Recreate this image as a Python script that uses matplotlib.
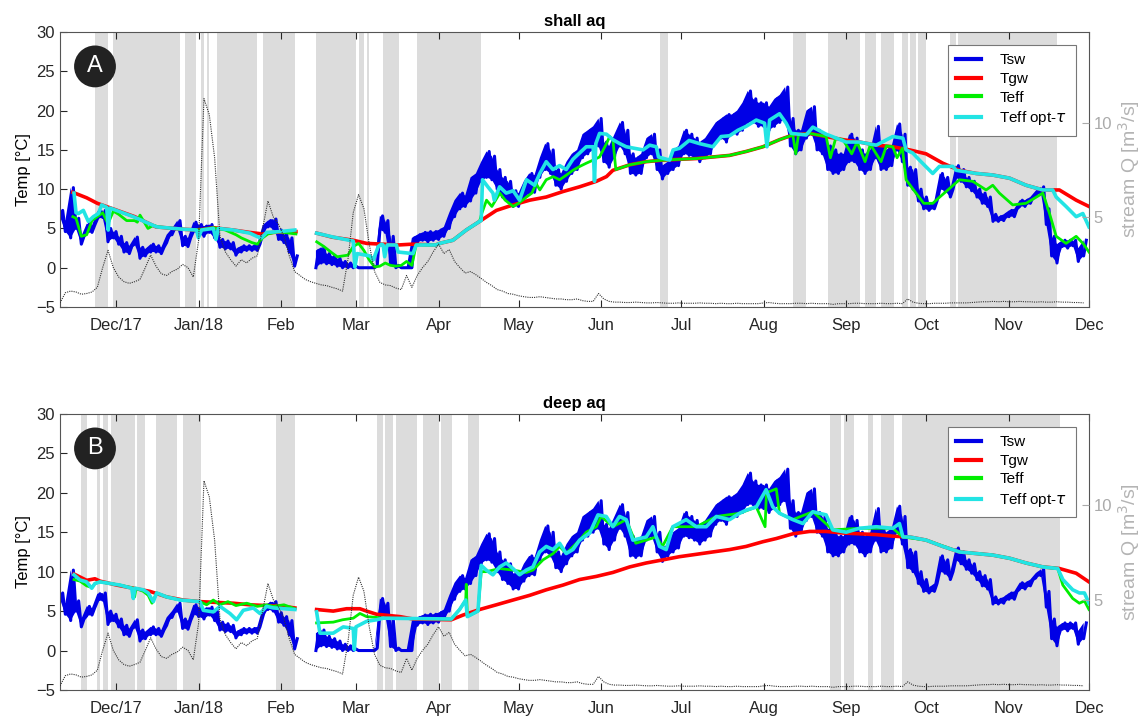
import numpy as np
import pandas as pd
import matplotlib
matplotlib.use('Agg')
import matplotlib.pyplot as plt
import matplotlib.dates as mdates

plt.rcParams['font.family'] = ['Liberation Sans', 'DejaVu Sans']

nan = np.nan
start = pd.Timestamp('2017-11-10')
end = pd.Timestamp('2018-12-01')

month_ticks = ['2017-12-01', '2018-01-01', '2018-02-01', '2018-03-01', '2018-04-01',
               '2018-05-01', '2018-06-01', '2018-07-01', '2018-08-01', '2018-09-01',
               '2018-10-01', '2018-11-01', '2018-12-01']
month_labels = ['Dec/17', 'Jan/18', 'Feb', 'Mar', 'Apr', 'May', 'Jun', 'Jul', 'Aug',
                'Sep', 'Oct', 'Nov', 'Dec']

# surface water temp, sampled every 2 days from start (low / high of the daily swing)
tsw_lo = [6.5, 4.6, 3.8, 5.0, 3.0, 4.4, 4.5, 6.2, 6.4, 3.3,
          3.8, 3.0, 2.0, 1.8, 3.0, 1.2, 1.5, 2.0, 2.0, 1.8,
          3.2, 4.2, 5.0, 2.8, 2.7, 4.6, 4.3, 4.0, 4.5, 3.8,
          2.6, 2.4, 2.4, 1.6, 2.0, 2.2, 2.2, 2.2, 4.2, 5.2,
          5.0, 3.6, 3.2, 2.0, 0.2, nan, nan, nan, 0.0, 0.6,
          0.5, 0.4, 0.2, 0.0, 0.0, 0.0, 0.0, 0.0, 0.0, 0.0,
          4.8, 4.5, 0.5, 0.0, 0.0, 0.0, 0.0, 3.2, 3.5, 3.3,
          3.5, 3.6, 4.0, 5.0, 6.5, 7.5, 7.8, 8.5, 9.5, 11.0,
          11.5, 11.2, 10.0, 9.0, 8.5, 7.8, 7.8, 8.8, 9.5, 9.6,
          11.5, 12.5, 12.0, 10.5, 10.0, 11.0, 12.0, 12.5, 14.0, 14.5,
          15.0, 15.5, 13.5, 12.8, 14.0, 15.5, 14.5, 12.0, 11.8, 12.0,
          14.0, 14.5, 12.5, 11.3, 12.0, 12.5, 13.0, 14.5, 14.3, 14.0,
          13.5, 14.0, 14.5, 16.0, 16.5, 16.0, 17.0, 17.0, 17.5, 18.5,
          18.5, 18.0, 18.0, 17.5, 18.0, 18.5, 19.0, 15.5, 14.5, 15.0,
          16.5, 17.0, 15.0, 14.5, 12.5, 12.0, 12.0, 12.5, 13.5, 13.5,
          12.5, 12.0, 12.5, 14.0, 12.5, 12.5, 13.0, 15.0, 13.5, 10.5,
          10.0, 8.5, 7.5, 7.3, 7.5, 10.0, 9.8, 9.0, 11.5, 11.0,
          10.3, 9.8, 9.0, 8.2, 7.8, 5.9, 5.9, 6.0, 6.5, 6.5,
          7.8, 7.8, 8.2, 9.2, 9.5, 5.5, 1.5, 0.6, 2.7, 2.5,
          2.8, 0.8, 1.5]
tsw_hi = [7.3, 6.0, 10.2, 6.3, 4.0, 5.6, 5.4, 7.2, 7.3, 5.0,
          4.6, 4.0, 3.2, 2.8, 3.9, 2.6, 2.4, 3.0, 2.8, 2.6,
          4.2, 5.0, 6.0, 4.0, 3.8, 5.8, 5.5, 5.3, 5.5, 5.0,
          3.6, 3.4, 3.2, 2.4, 2.8, 2.8, 2.8, 3.0, 5.4, 6.0,
          6.2, 4.8, 4.3, 3.8, 1.5, nan, nan, nan, 2.2, 2.6,
          1.8, 1.5, 1.2, 0.8, 0.6, 0.2, 0.0, 0.0, 0.0, 0.3,
          6.6, 6.0, 4.0, 0.3, 0.0, 0.0, 3.8, 4.2, 4.5, 4.6,
          4.6, 4.8, 5.2, 7.0, 8.6, 9.5, 9.2, 11.5, 12.0, 13.5,
          14.8, 14.2, 12.5, 11.5, 11.0, 9.8, 9.5, 11.0, 12.0, 11.8,
          14.0, 15.8, 15.0, 12.5, 12.0, 13.5, 14.5, 15.0, 17.0, 17.5,
          18.0, 19.0, 16.0, 15.5, 17.0, 18.5, 17.5, 14.5, 14.0, 14.5,
          16.5, 17.0, 15.0, 13.0, 13.5, 15.0, 15.5, 17.5, 17.0, 16.5,
          16.0, 16.5, 17.5, 18.5, 19.0, 19.5, 19.5, 20.0, 21.0, 22.5,
          21.5, 21.0, 21.0, 20.5, 21.5, 22.0, 23.0, 19.0, 17.5, 17.5,
          20.0, 20.5, 17.5, 17.0, 15.5, 15.0, 14.5, 14.5, 17.0, 16.5,
          15.0, 14.5, 15.0, 18.0, 15.5, 15.0, 15.5, 18.3, 17.0, 12.8,
          12.5, 10.0, 9.0, 8.0, 8.5, 12.0, 11.5, 10.0, 13.0, 12.5,
          11.5, 11.0, 10.0, 9.5, 9.0, 6.8, 6.5, 6.8, 7.3, 7.5,
          8.6, 8.6, 9.0, 9.8, 10.3, 7.5, 4.0, 3.0, 3.5, 3.5,
          3.5, 2.5, 3.5]

# stream discharge, same 2-day sampling
q_flow = [0.42, 0.96, 1.05, 1.00, 0.88, 0.92, 1.00, 1.25, 2.30, 3.22,
          2.30, 1.80, 1.55, 1.46, 1.55, 1.67, 2.30, 2.97, 2.38, 1.97,
          1.88, 2.09, 2.22, 2.47, 2.30, 1.80, 3.76, 11.30, 10.45, 8.15,
          3.97, 3.14, 2.72, 2.38, 2.72, 2.55, 2.80, 2.93, 4.39, 5.85,
          5.00, 4.60, 3.97, 2.93, 2.09, 1.88, 1.67, 1.55, 1.46, 1.38,
          1.34, 1.25, 1.17, 1.05, 2.72, 5.23, 6.19, 5.44, 3.55, 2.09,
          1.51, 1.38, 1.34, 1.21, 1.13, 1.88, 1.25, 1.88, 2.30, 2.63,
          3.14, 3.55, 3.05, 3.26, 2.63, 2.30, 2.01, 2.09, 1.92, 1.72,
          1.51, 1.34, 1.13, 1.05, 0.92, 0.88, 0.80, 0.75, 0.71, 0.71,
          0.75, 0.71, 0.67, 0.63, 0.63, 0.59, 0.59, 0.63, 0.54, 0.50,
          0.50, 0.92, 0.63, 0.50, 0.46, 0.46, 0.44, 0.44, 0.46, 0.44,
          0.42, 0.42, 0.44, 0.42, 0.40, 0.40, 0.42, 0.40, 0.40, 0.40,
          0.42, 0.40, 0.40, 0.38, 0.40, 0.38, 0.38, 0.40, 0.38, 0.38,
          0.38, 0.38, 0.42, 0.44, 0.40, 0.38, 0.38, 0.38, 0.40, 0.40,
          0.38, 0.40, 0.38, 0.38, 0.38, 0.34, 0.38, 0.38, 0.38, 0.40,
          0.40, 0.38, 0.38, 0.38, 0.40, 0.38, 0.38, 0.40, 0.38, 0.63,
          0.46, 0.40, 0.38, 0.38, 0.40, 0.40, 0.40, 0.42, 0.42, 0.42,
          0.42, 0.44, 0.46, 0.48, 0.48, 0.50, 0.48, 0.50, 0.48, 0.48,
          0.50, 0.48, 0.48, 0.46, 0.48, 0.46, 0.46, 0.48, 0.46, 0.46,
          0.44, 0.44, 0.42]

# ---- shallow aquifer (days since start, value)
gw_top_day = [4.8, 10, 14, 19, 28, 36, 46, 52, 57.5, 65, 71, 76, 80, 88.5, 92,
              96.3, 102, 110, 115, 127, 132, 141, 142.4, 147.4, 152.4, 157.4, 163.7, 170,
              176.2, 182.4, 188.7, 194.9, 201.2, 205, 207.4, 213.7, 219.9, 226.2, 232.4,
              238.7, 244.9, 251.2, 257.4, 263.7, 269.9, 274.9, 281.2, 287.4, 293.7, 299.9,
              306.2, 312.4, 318.7, 324.9, 331.2, 337.4, 343.7, 349.9, 356.2, 362.4, 368.7,
              374.9, 381.2, 386]
gw_top = [9.6, 8.9, 8.2, 7.6, 6.5, 5.2, 4.9, 4.8, 5.1, 4.8, 4.5, 4.3, 4.5, 4.6, nan,
          4.4, 3.9, 3.5, 3.1, 2.9, 3.0, 2.9, 3.1, 3.5, 4.8, 5.9, 7.3, 8.0,
          8.6, 9.0, 9.7, 10.3, 11.0, 11.6, 12.4, 13.1, 13.5, 13.7, 13.8,
          13.9, 14.1, 14.3, 14.8, 15.4, 16.3, 16.9, 17.1, 16.7, 16.3, 16.0,
          15.6, 15.4, 15.0, 14.5, 13.3, 12.4, 12.0, 11.8, 11.4, 10.5, 9.9,
          9.9, 8.6, 7.8]

eff_top_day = [4.8, 6, 8, 10, 12, 14, 16, 18, 20, 22, 25, 28, 29, 30, 33, 35, 37, 46, 52,
               57.5, 62, 66, 68, 70, 72, 74, 76, 78, 82, 86, 88.5, 92,
               96.3, 99, 102, 104, 108, 110, 112, 114, 116, 118, 120, 122, 124, 126, 128,
               130, 132, 133.6, 141, 142.4, 147.4, 152.4, 157.4, 158.2, 160, 162, 165,
               167, 170, 172, 175, 177, 178.6, 180, 182.4, 185, 187.4, 190, 192.4, 195,
               197.4, 200, 202.4, 205, 206.2, 207.4, 208.5, 213.7, 219.9, 226.2, 232.4,
               238.7, 244.9, 251.2, 257.4, 263.7, 269.9, 274.9, 276, 277, 281.2, 287.4,
               289, 291, 293.7, 297, 299, 302, 304, 308, 310, 312.4, 314, 316, 317.4,
               320, 324, 327.4, 330, 332.4, 337.4, 342.4, 347.4, 349.9, 352.4, 357.4,
               362.4, 368.7, 371.2, 373.7, 377.4, 381.2, 384, 386]
eff_top = [6.5, 6.3, 4.0, 4.2, 6.0, 6.5, 7.0, 5.6, 7.2, 6.8, 6.0, 6.0, 5.8, 6.7, 5.0, 5.4,
           5.2, 4.9, 4.8, 5.1, 4.8, 4.2, 3.8, 3.5, 3.2, 3.0, 3.8, 4.3, 4.6, 4.4, 4.3, nan,
           3.3, 2.7, 1.9, 1.4, 1.6, 2.7, 3.1, 2.2, 1.0, 0.1, 0.2, 0.6, 0.3, 0.2, 0.3,
           0.8, 0.3, 2.9, 2.9, 3.1, 3.5, 4.8, 5.9, 6.9, 8.6, 7.8, 9.5,
           8.6, 7.8, 8.2, 9.0, 9.5, 10.7, 9.9, 11.2, 11.6, 11.2, 11.8, 12.4, 12.9,
           13.3, 13.7, 14.1, 15.8, 16.7, 16.3, 12.5, 13.1, 13.5, 13.7, 13.8,
           13.9, 14.1, 14.3, 14.8, 15.4, 16.3, 16.9, 14.5, 16.9, 17.1, 16.7,
           14.0, 16.5, 16.3, 14.5, 16.0, 13.5, 15.7, 13.5, 15.5, 15.4, 14.0, 15.2, 11.2,
           10.0, 8.2, 8.2, 9.0, 9.7, 11.2, 11.0, 9.9, 10.5, 9.5, 8.0,
           8.2, 9.5, 6.9, 4.0, 3.1, 4.0, 3.0, 2.0]

opt_top_day = [5.25, 6, 6.9, 8.75, 10.6, 12.5, 14.4, 15.6, 17.5, 18.1, 18.75, 27.5, 36.25,
               46.25, 51.25, 51.9, 53.1, 57.5, 58.5, 59.4, 65, 71.25, 74.4, 75.6, 77.5,
               82.5, 88.1, 92,
               96.25, 102.5, 110, 110.6, 111.5, 116.25, 117.5, 119.4, 120.6, 121.2, 121.8,
               122.7, 126.2, 126.8, 132.4, 133.6, 141, 142.4, 147.4, 152.4, 157.4, 158.0,
               158.5, 160.5, 162.4, 162.9, 164.9, 167.4, 170, 172.4, 173.7, 175, 178, 180,
               182.4, 184.9, 187.4, 189.9, 192.4, 194.9, 197.4, 200, 200.5, 201, 202.4,
               205, 207.4, 210, 212.4, 215.5, 218.7, 221.2, 223.7, 224.5, 228.7, 230,
               232.4, 236, 239.9, 244.9, 248, 251.2, 254.3, 257.4, 261.2, 264.3, 265.2,
               266.2, 269.9, 272.4, 274.3, 279.9, 282.4, 287.4, 291.2, 294.9, 299.9,
               306.2, 312.4, 316.2, 317.4, 319.9, 322.4, 326.2, 327.4, 329.9, 334.9,
               336.2, 343.7, 349.9, 356.2, 362.4, 368.7, 372.4, 373.7, 377.4, 381.2,
               383.7, 386]
opt_top = [9.5, 7.0, 6.9, 7.3, 5.9, 6.5, 6.9, 8.0, 7.7, 4.8, 7.6, 6.5, 5.2,
           4.9, 4.8, 3.8, 4.8, 5.0, 3.6, 5.0, 4.8, 4.4, 3.9, 3.8, 4.5,
           4.6, 4.8, nan,
           4.4, 3.9, 3.4, 0.1, 1.8, 1.5, 1.0, 2.7, 3.0, 2.9, 1.4,
           2.9, 2.9, 2.0, 1.8, 2.9, 2.9, 3.1, 3.5, 4.8, 5.9, 6.0,
           11.2, 10.3, 9.5, 8.6, 10.3, 9.5, 9.8, 8.6, 9.9, 11.2, 10.5, 12.0,
           13.5, 12.5, 13.0, 12.5, 13.8, 14.6, 15.4, 15.4, 11.0, 15.8, 17.1,
           17.0, 16.3, 15.8, 15.4, 15.2, 15.0, 15.6, 15.4, 14.1, 13.7, 15.0,
           15.2, 16.2, 15.8, 15.4, 16.7, 16.8, 17.5, 18.0, 18.8, 18.4, 15.4,
           18.8, 19.6, 18.4, 17.1, 16.9, 17.9, 17.0, 16.5, 16.0, 16.0,
           15.6, 16.7, 16.5, 15.0, 14.6, 13.7, 12.4, 12.0, 12.9, 12.9,
           12.4, 12.0, 11.8, 11.4, 10.5, 9.9, 9.9, 9.0, 7.8, 6.5,
           6.9, 5.2]

# ---- deep aquifer
gw_bot_day = [5.25, 10, 13.1, 15, 21.25, 27.5, 33.75, 40, 46.25, 52.5, 58.75, 65, 71.25,
              77.5, 83.75, 88.1, 92, 96.25, 102.5, 107.5, 112.5, 115, 118.75, 127.5,
              132.4, 146.8, 151.2, 157.4, 163.7, 169.9, 176.2, 182.4, 188.7, 194.9,
              201.2, 207.4, 213.7, 219.9, 226.2, 232.4, 238.7, 244.9, 251.2, 257.4,
              263.7, 268.7, 274.9, 281.2, 287.4, 293.7, 299.9, 306.2, 312.4, 318.7,
              324.9, 331.2, 337.4, 343.7, 349.9, 356.2, 362.4, 368.7, 374.9, 381.2, 386]
gw_bot = [9.7, 8.9, 9.1, 8.8, 8.3, 7.9, 7.5, 6.8, 6.4, 6.2, 6.1, 6.0, 5.8,
          5.7, 5.6, 5.4, nan, 5.2, 5.0, 5.3, 5.3, 5.0, 4.6, 4.3,
          4.0, 3.9, 4.5, 5.2, 5.8, 6.4, 7.0, 7.7, 8.3, 9.0,
          9.4, 9.9, 10.6, 11.1, 11.5, 11.9, 12.2, 12.5, 12.8, 13.2,
          13.8, 14.2, 14.8, 15.1, 15.1, 14.9, 14.8, 14.7, 14.5, 14.4,
          14.0, 13.2, 12.5, 12.3, 12.1, 11.7, 11.1, 10.6, 10.4, 9.8, 8.7]

eff_bot_day = [5.25, 7.5, 10, 12, 13.1, 15, 22.5, 27.5, 28, 28.5, 31.25, 33.1, 34.5, 36.25,
               40, 45, 52.5, 55, 57.5, 60, 63, 66, 70, 74, 77.5, 80, 84, 88.1, 92,
               96.25, 102.5, 106, 110, 112.5, 115, 118.75, 121.25, 146.8, 149.9, 152.2,
               152.4, 152.8, 156.8, 158, 160, 164.9, 169.9, 174.9, 177.4, 181.2, 185,
               187.4, 189.9, 194.9, 197.4, 201.2, 203, 207.4, 212.4, 216, 223.7, 226,
               229.9, 238.7, 246.2, 254.9, 261.2, 264.5, 265, 268.7, 269.9, 274.9,
               282.4, 289.9, 299.9, 312.4, 316.2, 324.9, 337.4, 349.9, 356.2, 362.4,
               368.7, 374.3, 376.2, 379.9, 382.4, 384.3, 386]
eff_bot = [9.0, 8.8, 8.2, 8.0, 8.5, 8.7, 8.3, 7.9, 6.8, 7.9, 7.5, 7.0, 6.0, 7.3,
           6.8, 6.4, 6.2, 5.8, 6.4, 5.8, 6.2, 5.7, 6.0, 5.6, 5.8, 5.6, 5.8, 5.3, nan,
           3.5, 3.6, 3.9, 4.1, 4.7, 4.3, 4.2, 4.1, 4.0, 5.2, 6.4,
           8.4, 4.3, 5.0, 10.0, 10.0, 10.4, 10.2, 9.9, 10.2, 11.5, 12.3,
           13.2, 12.3, 14.0, 15.0, 15.7, 17.0, 15.7, 16.6, 13.6, 14.4, 13.2,
           15.7, 15.7, 17.0, 17.4, 18.2, 15.7, 20.0, 20.5, 17.4, 16.6,
           17.6, 15.3, 15.5, 15.5, 14.4, 14.0, 12.5, 12.1, 11.7, 11.1,
           10.6, 10.4, 8.3, 6.6, 6.0, 6.3, 5.2]

opt_bot_day = [5.25, 7.5, 10, 11.9, 13.1, 15, 18.75, 22.5, 26.9, 27.5, 28.1, 31.25, 33.1,
               35, 36.25, 40, 45, 52.5, 53.75, 57.5, 60, 63.75, 66.25, 68.75, 72.5, 75,
               77.5, 80, 88.1, 92,
               96.25, 97.5, 102.5, 106.25, 110, 110.4, 111, 115, 118.75, 121.25, 146.8,
               149.9, 152.2, 152.8, 156.2, 156.8, 158, 159.9, 162.4, 164.9, 167.4, 169.9,
               172.4, 174.9, 177.4, 179.9, 182.4, 184.9, 187.4, 189.9, 192.4, 194.9,
               198.7, 201.8, 204.9, 207.4, 209.9, 212.4, 214.9, 219.9, 222.4, 224.9,
               227.4, 229.9, 234.9, 238.7, 242.4, 246.2, 251.2, 254.9, 257.4, 261.2,
               264.9, 267.4, 269.9, 274.9, 278.7, 282.4, 287.4, 289.9, 294.9, 299.9,
               306.2, 312.4, 314.9, 316.2, 318.7, 324.9, 331.2, 337.4, 343.7, 349.9,
               356.2, 362.4, 368.7, 374.3, 376.2, 379.9, 382.4, 384.3, 386]
opt_bot = [9.6, 8.95, 8.7, 7.9, 8.5, 8.7, 8.5, 8.3, 7.9, 6.6, 7.9, 7.7, 7.3,
           6.2, 7.3, 6.8, 6.4, 6.2, 5.1, 4.9, 5.6, 4.7, 3.9, 5.1, 5.4, 4.7,
           5.6, 5.4, 5.2, nan,
           4.9, 2.2, 2.2, 3.0, 2.8, 0.1, 3.0, 3.7, 3.9, 4.1, 4.0,
           5.2, 6.4, 4.3, 4.9, 5.0, 10.8, 10.2, 9.6, 10.6, 11.1, 10.4,
           9.6, 10.2, 10.6, 12.5, 13.2, 12.8, 13.6, 12.3, 12.8, 14.0,
           14.9, 17.2, 17.0, 15.7, 17.0, 16.6, 14.0, 14.4, 15.7, 13.2,
           12.8, 15.7, 16.6, 15.7, 15.7, 17.0, 16.6, 17.4, 17.8, 18.2,
           20.4, 18.2, 17.4, 16.6, 16.1, 17.6, 17.2, 15.3, 15.0, 15.5,
           15.7, 15.5, 16.1, 14.4, 14.4, 14.0, 13.2, 12.5, 12.3, 12.1,
           11.7, 11.1, 10.6, 10.4, 9.0, 7.7, 7.3, 7.3, 6.0]

bands_top = [('2017-11-23', '2017-11-28'), ('2017-11-30', '2017-12-25'),
             ('2017-12-27', '2017-12-31'), ('2018-01-02', '2018-01-03'),
             ('2018-01-04', '2018-01-05'), ('2018-01-08', '2018-01-23'),
             ('2018-01-25', '2018-02-06'), ('2018-02-14', '2018-03-01'),
             ('2018-03-02', '2018-03-04'), ('2018-03-05', '2018-03-06'),
             ('2018-03-11', '2018-03-17'), ('2018-03-24', '2018-04-17'),
             ('2018-06-23', '2018-06-26'), ('2018-08-12', '2018-08-17'),
             ('2018-08-25', '2018-09-06'), ('2018-09-08', '2018-09-12'),
             ('2018-09-14', '2018-09-19'), ('2018-09-22', '2018-09-24'),
             ('2018-09-25', '2018-09-27'), ('2018-09-28', '2018-10-01'),
             ('2018-10-10', '2018-10-12'), ('2018-10-13', '2018-11-19')]
bands_bot = [('2017-11-18', '2017-11-20'), ('2017-11-24', '2017-11-25'),
             ('2017-11-26', '2017-11-28'), ('2017-11-29', '2017-12-08'),
             ('2017-12-09', '2017-12-12'), ('2017-12-16', '2017-12-24'),
             ('2017-12-26', '2018-01-02'), ('2018-01-30', '2018-02-06'),
             ('2018-03-09', '2018-03-11'), ('2018-03-12', '2018-03-15'),
             ('2018-03-16', '2018-03-24'), ('2018-03-26', '2018-04-01'),
             ('2018-04-02', '2018-04-06'), ('2018-04-12', '2018-04-16'),
             ('2018-08-26', '2018-08-30'), ('2018-08-31', '2018-09-04'),
             ('2018-09-09', '2018-09-11'), ('2018-09-14', '2018-09-19'),
             ('2018-09-22', '2018-11-20')]

t0 = mdates.date2num(start)
grid = t0 + np.arange(0, 385, 2)
tsw_x = np.column_stack([grid, grid + 1]).ravel()
tsw_y = np.column_stack([tsw_lo, tsw_hi]).ravel()

tick_grey = '#262626'
blue = '#0000e6'


def panel(ax, title, badge, bands, gw_d, gw, eff_d, eff, opt_d, opt):
    for a, b in bands:
        ax.axvspan(mdates.date2num(pd.Timestamp(a)), mdates.date2num(pd.Timestamp(b)),
                   color='#dcdcdc', lw=0, zorder=0)
    # Tsw: daily swing as a filled band with a jagged outline
    ax.fill_between(grid, tsw_lo, tsw_hi, color=blue, lw=0, zorder=2)
    l1, = ax.plot(tsw_x, tsw_y, color=blue, lw=2.2, zorder=2, label='Tsw')
    l2, = ax.plot(t0 + np.array(gw_d), gw, color='#ff0000', lw=2.6, zorder=3, label='Tgw')
    l3, = ax.plot(t0 + np.array(eff_d), eff, color='#00ee00', lw=2, zorder=4, label='Teff')
    l4, = ax.plot(t0 + np.array(opt_d), opt, color='#22e4e4', lw=2.6, zorder=5,
                  label='Teff opt-$\\tau$')

    ax.set_xlim(t0, mdates.date2num(end))
    ax.set_ylim(-5, 30)
    ax.set_yticks(range(-5, 31, 5))
    ax.set_xticks([mdates.date2num(pd.Timestamp(m)) for m in month_ticks])
    ax.set_xticklabels(month_labels)
    ax.tick_params(axis='both', direction='in', labelsize=12, colors=tick_grey,
                   length=5, top=True, right=False)
    ax.tick_params(axis='x', pad=8)
    ax.set_ylabel('Temp [°C]', fontsize=12, color='black', labelpad=4)
    ax.set_title(title, fontweight='bold', fontsize=12, pad=4)
    for s in ax.spines.values():
        s.set_color('#555555')

    ax2 = ax.twinx()
    ax2.plot(grid, q_flow, color='#333333', lw=0.8, ls=(0, (1, 1)), zorder=6)
    ax2.set_ylim(0.2, 14.85)
    ax2.set_yticks([5, 10])
    ax2.tick_params(axis='y', direction='in', labelsize=12, colors='#aaaaaa', length=5)
    ax2.set_ylabel('stream Q [m$^3$/s]', fontsize=14, color='#b4b4b4')
    ax2.yaxis.set_label_coords(1.026, 0.5)
    for s in ax2.spines.values():
        s.set_visible(False)

    ax.text(0.034, 0.875, badge, transform=ax.transAxes, ha='center', va='center',
            fontsize=17, color='white',
            bbox=dict(boxstyle='circle,pad=0.42', fc='#222222', ec='none'), zorder=10)

    handles = [l1, l2, l3, l4]
    leg = ax2.legend(handles, [h.get_label() for h in handles],
                     loc='upper right', bbox_to_anchor=(0.987, 0.953), borderaxespad=0,
                     fontsize=11, frameon=True, fancybox=False, edgecolor='#777777',
                     framealpha=1, handlelength=1.6, handletextpad=1.2,
                     labelspacing=0.3, borderpad=0.55)
    leg.get_frame().set_linewidth(0.8)
    for ln in leg.get_lines():
        ln.set_linewidth(3)


fig = plt.figure(figsize=(11.41, 7.17), dpi=100)
ax_top = fig.add_axes([0.0526, 0.5718, 0.9018, 0.3835])
ax_bot = fig.add_axes([0.0526, 0.0377, 0.9018, 0.385])

panel(ax_top, 'shall aq', 'A', bands_top, gw_top_day, gw_top, eff_top_day, eff_top,
      opt_top_day, opt_top)
panel(ax_bot, 'deep aq', 'B', bands_bot, gw_bot_day, gw_bot, eff_bot_day, eff_bot,
      opt_bot_day, opt_bot)

fig.savefig('out.png', dpi=100)
